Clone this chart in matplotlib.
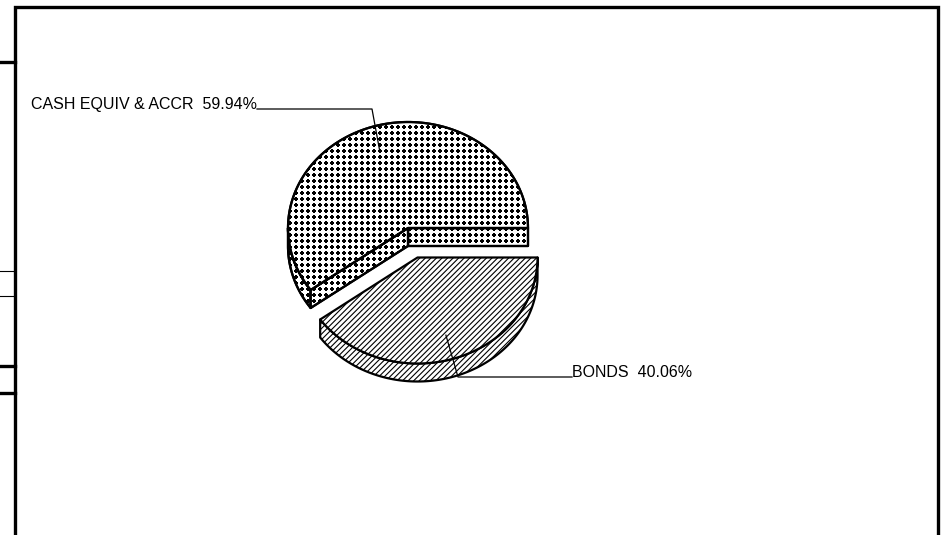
import numpy as np
import matplotlib
matplotlib.use("Agg")
import matplotlib.pyplot as plt
from matplotlib.patches import Polygon

plt.rcParams['font.family'] = ['Liberation Sans', 'DejaVu Sans']
plt.rcParams['hatch.linewidth'] = 0.8

# ---- data ----
labels = ["CASH EQUIV & ACCR", "BONDS"]
values = [59.94, 40.06]
fills = ["dots", "//////"]
exploded = [0.0, 31.0]          # explode distance (px)

# ---- layout (pixel space) ----
W, H = 945, 535
CX, CY = 408, 228               # pie centre
RX, RY = 120, 106               # ellipse radii of top face
DEPTH = 18                      # thickness
DOT_STEP = 6                    # dot-pattern spacing (px)
label_elbows = [(372, 109), (458, 377)]
label_ends = [(257, 109), (572, 377)]
label_align = ["right", "left"]
label_frac = 0.77

fig = plt.figure(figsize=(W / 100, H / 100), dpi=100)
ax = fig.add_axes([0, 0, 1, 1])
ax.set_xlim(0, W)
ax.set_ylim(H, 0)
ax.axis("off")

gx, gy = np.meshgrid(np.arange(0, W, DOT_STEP) + 2, np.arange(0, H, DOT_STEP) + 1)
gx, gy = gx.ravel(), gy.ravel()

def pt(cx, cy, a):
    t = np.radians(a)
    return cx + RX * np.cos(t), cy - RY * np.sin(t)

def arc(cx, cy, a0, a1, n=120):
    t = np.radians(np.linspace(a0, a1, n))
    return np.column_stack([cx + RX * np.cos(t), cy - RY * np.sin(t)])

def poly(verts, fill, z, lw=1.6):
    verts = np.asarray(verts, float)
    hatch = None if fill == "dots" else fill
    p = Polygon(verts, closed=True, facecolor="white", edgecolor="black",
                hatch=hatch, linewidth=lw, joinstyle="round", zorder=z)
    ax.add_patch(p)
    if fill == "dots":
        x0, y0 = verts.min(axis=0) - 4
        x1, y1 = verts.max(axis=0) + 4
        m = (gx >= x0) & (gx <= x1) & (gy >= y0) & (gy <= y1)
        sc = ax.scatter(gx[m], gy[m], marker="P", s=7, color="black",
                        linewidths=0, zorder=z + 0.5)
        sc.set_clip_path(p)
        # redraw the outline above the dots
        ax.add_patch(Polygon(verts, closed=True, facecolor="none", edgecolor="black",
                             linewidth=lw, joinstyle="round", zorder=z + 0.6))

total = sum(values)
angles = np.cumsum([0] + [v / total * 360 for v in values])

z = 1
for i, (lab, v) in enumerate(zip(labels, values)):
    a0, a1 = angles[i], angles[i + 1]
    mid = (a0 + a1) / 2
    cx = CX + exploded[i] * np.cos(np.radians(mid))
    cy = CY - exploded[i] * np.sin(np.radians(mid))
    f = fills[i]
    # outer wall: visible where the arc faces the viewer (lower half)
    lo, hi = max(a0, 180), min(a1, 360)
    if hi > lo:
        top = arc(cx, cy, lo, hi)
        bot = top[::-1] + [0, DEPTH]
        poly(np.vstack([top, bot]), f, z); z += 1
    # radial cut walls facing the viewer
    for a, normal in ((a0, a0 - 90), (a1, a1 + 90)):
        if np.sin(np.radians(normal)) < 0 and exploded[i] == 0:
            px, py = pt(cx, cy, a)
            poly([(cx, cy), (px, py), (px, py + DEPTH), (cx, cy + DEPTH)], f, z); z += 1
    # top face
    poly(np.vstack([[cx, cy], arc(cx, cy, a0, a1)]), f, z); z += 1

    # leader line and label
    ix = cx + label_frac * RX * np.cos(np.radians(mid))
    iy = cy - label_frac * RY * np.sin(np.radians(mid))
    ex, ey = label_elbows[i]
    tx, ty = label_ends[i]
    ax.plot([ix, ex, tx], [iy, ey, ty], color="black", lw=0.9, zorder=50)
    ax.text(tx, ty, f"{lab}  {v:.2f}%", ha=label_align[i], va="baseline",
            fontsize=11.5, color="black", zorder=51)

# ---- frame and stray edge rules ----
ax.plot([15, 15, 938, 938], [H, 7, 7, H], color="black", lw=2.4,
        solid_joinstyle="miter", zorder=60)
for y, lw in ((62, 2.4), (271, 0.8), (296, 0.8), (366, 2.4), (393, 2.4)):
    ax.plot([0, 15], [y, y], color="black", lw=lw, zorder=60)

fig.savefig("out.png", dpi=100)
